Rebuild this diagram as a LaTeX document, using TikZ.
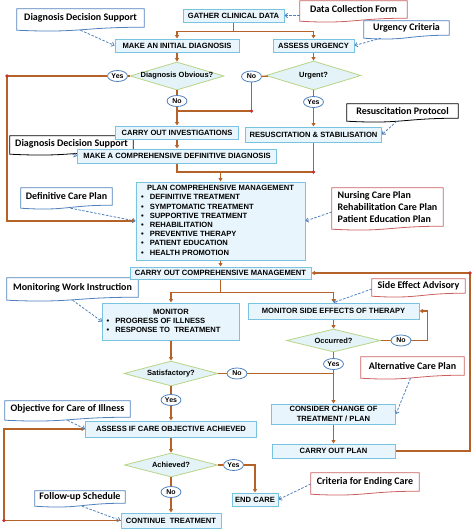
\documentclass[tikz,border=0pt]{standalone}
\usepackage{fontspec}
\setmainfont{Liberation Sans}
\newfontfamily\notefont{Carlito}
\usepackage{tikz}
\usetikzlibrary{calc,positioning}
\usetikzlibrary{arrows.meta,shapes.geometric,backgrounds}

\definecolor{boxfill}{RGB}{232,245,252}
\definecolor{boxline}{RGB}{120,196,224}
\definecolor{askfill}{RGB}{228,243,247}
\definecolor{askline}{RGB}{184,212,134}
\definecolor{flowbrown}{RGB}{180,98,40}
\definecolor{dotred}{RGB}{196,52,52}
\definecolor{noteblue}{RGB}{79,129,189}
\definecolor{notered}{RGB}{204,96,96}

\tikzset{
  procbox/.style={draw=boxline, fill=boxfill, line width=1pt, inner sep=1pt,
    font=\bfseries\fontsize{7.6}{9.2}\selectfont},
  decision/.style={diamond, aspect=3.4, draw=askline, fill=askfill, line width=0.8pt, inner sep=0pt,
    font=\bfseries\fontsize{7.5}{9}\selectfont,
    execute at begin node={\hbox to 0pt\bgroup\hss}, execute at end node={\hss\egroup}},
  answer/.style={ellipse, draw=noteblue, fill=white, line width=0.8pt, minimum width=20pt,
    minimum height=11pt, inner sep=0pt, font=\bfseries\fontsize{7}{8}\selectfont},
  docnote/.style={inner sep=1pt, font=\notefont\bfseries\fontsize{10}{12}\selectfont},
  flowline/.style={draw=flowbrown, line width=1.2pt},
  flowarrow/.style={flowline, -{Triangle[length=3.5pt,width=4pt]}},
  hintarrow/.style={draw=noteblue, line width=0.8pt, dash pattern=on 2.5pt off 1.5pt,
    -{Straight Barb[length=2.5pt,width=4.5pt]}},
}

% outline of a document note, wavy bottom
\newcommand{\notewave}[2]{%
  \begin{pgfonlayer}{background}
    \draw[#2, line width=0.8pt, fill=white] (#1.north west) -- (#1.north east) -- (#1.south east)
      .. controls (#1.south) and ($(#1.south)+(0,6)$) .. ($(#1.south west)+(0,3)$) -- cycle;
  \end{pgfonlayer}}

\begin{document}
\begin{tikzpicture}[x=1pt,y=-1pt]
  %\draw[color=gray,step=10pt, help lines,opacity=0.3] (0,0) grid (474,530); %help grids
  \useasboundingbox (0,0) rectangle (474,530);

  % notes
  \node[docnote, minimum width=127pt, minimum height=18pt] (ddsA) at (80.5,18) {Diagnosis Decision Support};
  \node[docnote, minimum width=107pt, minimum height=17pt] (dataform) at (353.5,9.5) {Data Collection Form};
  \node[docnote, minimum width=85pt, minimum height=14pt] (urgcrit) at (406.5,28) {Urgency Criteria};
  \node[docnote, minimum width=111pt, minimum height=14pt] (resprot) at (402.5,111) {Resuscitation Protocol};
  \node[docnote, minimum width=123pt, minimum height=15pt] (ddsB) at (71.5,143.5) {Diagnosis Decision Support};
  \node[docnote, minimum width=91pt, minimum height=17pt] (defplan) at (66.5,196.5) {Definitive Care Plan};
  \node[docnote, minimum width=111pt, minimum height=38pt, align=left] (careplans) at (387.5,207)
    {Nursing Care Plan\\Rehabilitation Care Plan\\Patient Education Plan};
  \node[docnote, minimum width=131pt, minimum height=19pt] (workinst) at (72.5,287.5) {Monitoring Work Instruction};
  \node[docnote, minimum width=93pt, minimum height=14pt] (sideadv) at (418.5,286) {Side Effect Advisory};
  \node[docnote, minimum width=103pt, minimum height=18pt] (altplan) at (412.5,366) {Alternative Care Plan};
  \node[docnote, minimum width=125pt, minimum height=16pt] (objective) at (67.5,409) {Objective for Care of Illness};
  \node[docnote, minimum width=90pt, minimum height=12pt] (followup) at (80,497) {Follow-up Schedule};
  \node[docnote, minimum width=108pt, minimum height=18pt] (endcrit) at (365,482) {Criteria for Ending Care};
  \notewave{ddsA}{noteblue}
  \notewave{dataform}{notered}
  \notewave{urgcrit}{noteblue}
  \notewave{resprot}{black}
  \notewave{ddsB}{black}
  \notewave{defplan}{noteblue}
  \notewave{careplans}{notered}
  \notewave{workinst}{noteblue}
  \notewave{sideadv}{notered}
  \notewave{altplan}{notered}
  \notewave{objective}{noteblue}
  \notewave{followup}{noteblue}
  \notewave{endcrit}{notered}

  % diagnosis part
  \node[procbox, minimum width=101pt, minimum height=13pt] (gather) at (233.5,15.5) {GATHER CLINICAL DATA};
  \node[procbox, minimum width=124pt, minimum height=13pt] (initial) at (177,45.5) {MAKE AN INITIAL DIAGNOSIS};
  \node[procbox, minimum width=81pt, minimum height=13pt] (assess) at (313.5,45.5) {ASSESS URGENCY};
  \node[decision, minimum width=94pt, minimum height=28pt] (obvious) at (177,76) {Diagnosis Obvious?};
  \node[decision, minimum width=95pt, minimum height=29pt] (urgent) at (313.5,75.5) {Urgent?};
  \node[answer] (yesA) at (117.5,76) {Yes};
  \node[answer] (noA) at (177,101) {No};
  \node[answer] (noB) at (251.5,76.5) {No};
  \node[answer] (yesB) at (313.5,102) {Yes};
  \node[procbox, minimum width=123pt, minimum height=13pt] (invest) at (177,132.5) {CARRY OUT INVESTIGATIONS};
  \node[procbox, minimum width=136pt, minimum height=15pt] (resus) at (313.5,134.5) {RESUSCITATION \& STABILISATION};
  \node[procbox, minimum width=199pt, minimum height=14pt] (definitive) at (177,156) {MAKE A COMPREHENSIVE DEFINITIVE DIAGNOSIS};

  % management part
  \node[procbox, minimum width=169pt, minimum height=78pt] (plan) at (220.5,221)
    {\begin{tabular}{@{}l@{\hspace{6pt}}p{150pt}@{}}
      \multicolumn{2}{@{}c@{}}{PLAN COMPREHENSIVE MANAGEMENT}\\
      \textbullet & DEFINITIVE TREATMENT\\
      \textbullet & SYMPTOMATIC TREATMENT\\
      \textbullet & SUPPORTIVE TREATMENT\\
      \textbullet & REHABILITATION\\
      \textbullet & PREVENTIVE THERAPY\\
      \textbullet & PATIENT EDUCATION\\
      \textbullet & HEALTH PROMOTION
    \end{tabular}};
  \node[procbox, minimum width=181pt, minimum height=12pt] (manage) at (220.5,273) {CARRY OUT COMPREHENSIVE MANAGEMENT};
  \node[procbox, minimum width=137pt, minimum height=37pt] (monitor) at (171,321.5)
    {\begin{tabular}{@{}l@{\hspace{6pt}}p{120pt}@{}}
      \multicolumn{2}{@{}c@{}}{MONITOR}\\
      \textbullet & PROGRESS OF ILLNESS\\
      \textbullet & RESPONSE TO\ \ TREATMENT
    \end{tabular}};
  \node[procbox, minimum width=171pt, minimum height=16pt] (sidefx) at (333.5,311) {MONITOR SIDE EFFECTS OF THERAPY};
  \node[decision, minimum width=94pt, minimum height=23pt] (occurred) at (333.5,340.5) {Occurred?};
  \node[answer] (noC) at (401,340.5) {No};
  \node[answer] (yesC) at (333.5,364) {Yes};
  \node[decision, minimum width=94pt, minimum height=25pt] (satisf) at (171,373.5) {Satisfactory?};
  \node[answer] (noD) at (237,373.5) {No};
  \node[answer] (yesD) at (171,400) {Yes};
  \node[procbox, minimum width=124pt, minimum height=20pt, align=center] (change) at (333.5,414)
    {CONSIDER CHANGE OF\\TREATMENT / PLAN};
  \node[procbox, minimum width=123pt, minimum height=14pt] (doplan) at (333.5,451) {CARRY OUT PLAN};
  \node[procbox, minimum width=171pt, minimum height=16pt] (objcheck) at (171,429) {ASSESS IF CARE OBJECTIVE ACHIEVED};
  \node[decision, minimum width=93pt, minimum height=24pt] (achieved) at (171,465) {Achieved?};
  \node[answer] (yesE) at (233.5,465) {Yes};
  \node[answer] (noE) at (171,492) {No};
  \node[procbox, minimum width=46pt, minimum height=13pt] (endcare) at (255,499.5) {END CARE};
  \node[procbox, minimum width=100pt, minimum height=15pt] (continue) at (171,520.5) {CONTINUE\ \ TREATMENT};

  % corners
  \coordinate (dotA) at (7,76);
  \coordinate (dotB) at (251.5,111);
  \coordinate (dotC) at (313.5,172);
  \coordinate (dotD) at (470,273);
  \coordinate (dotE) at (4,520.5);

  % flow
  \draw[flowarrow] (gather.south) -- ++(0,9) -| (initial.north);
  \draw[flowarrow] (gather.south) -- ++(0,9) -| (assess.north);
  \draw[flowarrow] (initial) -- (obvious);
  \draw[flowarrow] (assess) -- (urgent);
  \draw[flowline] (obvious) -- (yesA);
  \draw[flowline] (obvious) -- (noA);
  \draw[flowline] (urgent) -- (noB);
  \draw[flowline] (urgent) -- (yesB);
  \draw[flowarrow] (yesA) -- (dotA) |- (plan.west);
  \draw[flowarrow] (noA) -- (invest);
  \draw[flowline] (noB) -- (dotB) -- (dotB -| invest.north);
  \draw[flowarrow] (yesB) -- (resus);
  \draw[flowarrow] (invest) -- (definitive);
  \draw[flowline] (definitive.south) |- (dotC);
  \draw[flowline] (resus) -- (dotC);
  \draw[flowarrow] (plan.north |- dotC) -- (plan.north);
  \draw[flowarrow] (plan) -- (manage);
  \draw[flowarrow] (manage.south) -- ++(0,13) -| (monitor.north);
  \draw[flowarrow] (manage.south) -- ++(0,13) -| (sidefx.north);
  \draw[flowarrow] (sidefx) -- (occurred);
  \draw[flowline] (occurred) -- (noC);
  \draw[flowarrow] (noC.east) -| ($(sidefx.east)+(8,0)$) -- (sidefx.east);
  \draw[flowline] (occurred) -- (yesC);
  \draw[flowarrow] (yesC) -- (change);
  \draw[flowarrow] (monitor) -- (satisf);
  \draw[flowline] (satisf) -- (noD);
  \draw[flowline] (noD) -- (noD -| change.north);
  \draw[flowline] (satisf) -- (yesD);
  \draw[flowarrow] (yesD) -- (objcheck);
  \draw[flowarrow] (change) -- (doplan);
  \draw[flowarrow] (doplan.east) -| (dotD) -- (manage.east);
  \draw[flowarrow] (objcheck) -- (achieved);
  \draw[flowline] (achieved) -- (yesE);
  \draw[flowarrow] (yesE) -| (endcare.north);
  \draw[flowline] (achieved) -- (noE);
  \draw[flowarrow] (noE) -- (continue);
  \draw[flowarrow] (continue) -- (dotE) |- (objcheck.west);
  \foreach \d in {dotA,dotB,dotC,dotD,dotE}
    \fill[dotred] (\d) circle (1.8pt);

  % hints
  \draw[hintarrow] ($(ddsA.south)+(0,3)$) -- (initial.west);
  \draw[hintarrow] (dataform.west |- gather.east) -- (gather.east);
  \draw[hintarrow] ($(urgcrit.south west)+(17,3)$) -- (assess.east);
  \draw[hintarrow] ($(resprot.south west)+(50,3)$) -- (resus.east);
  \draw[hintarrow] ($(ddsB.south)+(1,3)$) -- (definitive.west);
  \draw[hintarrow] ($(defplan.south)+(4,3)$) -- (plan.west);
  \draw[hintarrow] ($(careplans.west)+(0,5)$) -- (plan.east);
  \draw[hintarrow] ($(workinst.south)+(0,3)$) -- (monitor.west);
  \draw[hintarrow] ($(sideadv.west)+(0,3)$) -- (sidefx.north);
  \draw[hintarrow] ($(altplan.south)+(-2,3)$) -- (change.east);
  \draw[hintarrow] ($(objective.south)+(0,3)$) -- (objcheck.west);
  \draw[hintarrow] ($(followup.south)+(2,3)$) -- (continue.west);
  \draw[hintarrow] ($(endcrit.west)+(0,2)$) -- (endcare.east);
\end{tikzpicture}
\end{document}
